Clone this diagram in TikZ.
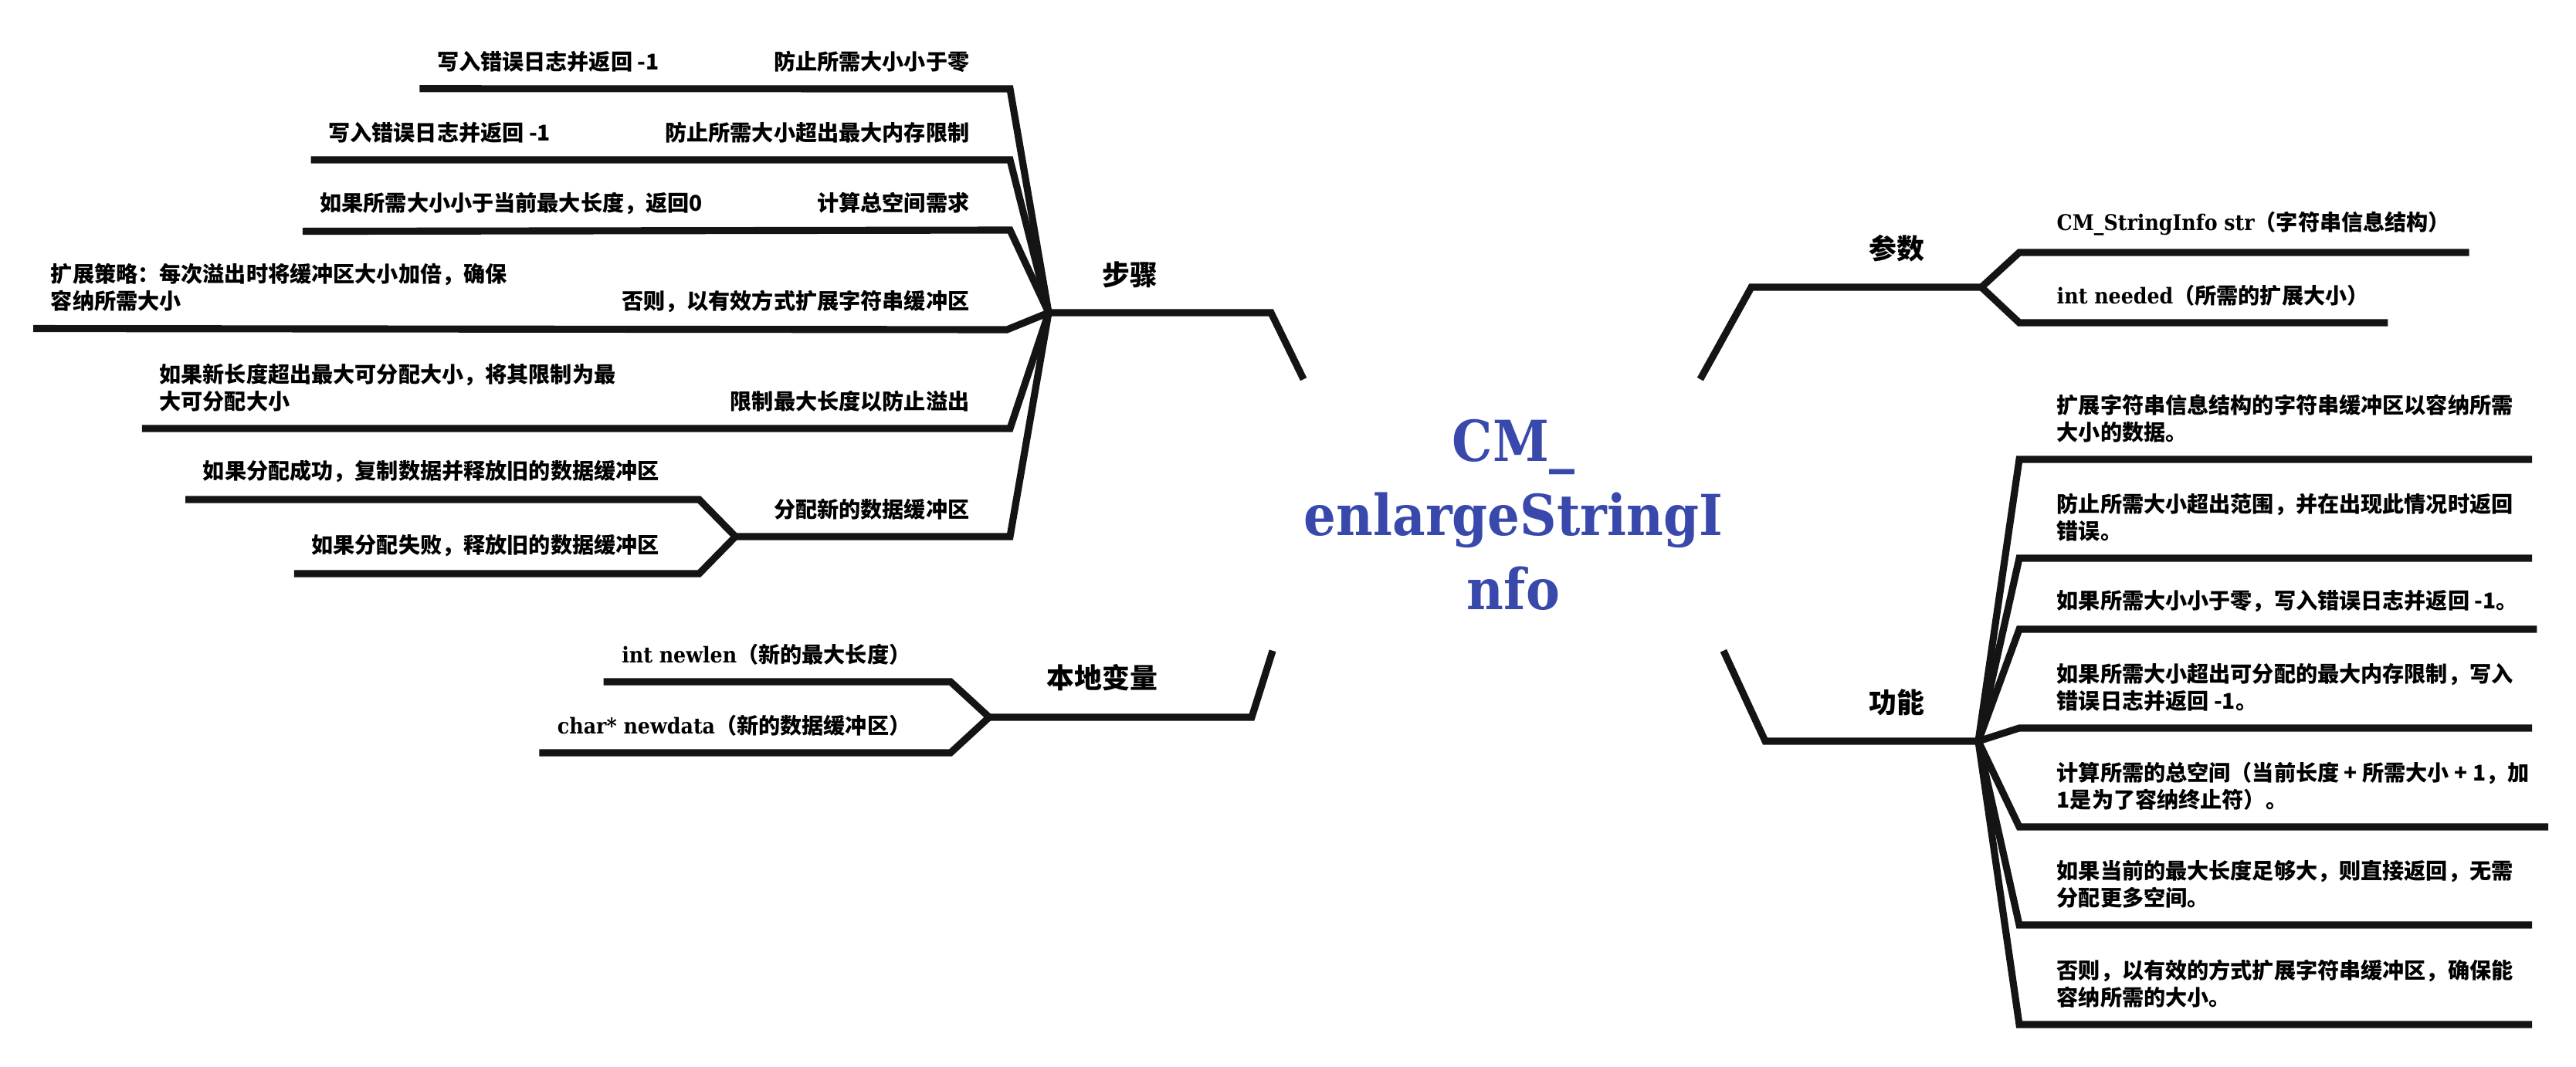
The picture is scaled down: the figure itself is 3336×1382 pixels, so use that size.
\documentclass[tikz,border=0pt]{standalone}
\usepackage{fontspec}
\setmainfont{Noto Sans CJK SC}
\newfontfamily\slab{DejaVu Serif}[FakeStretch=0.9]
\usetikzlibrary{positioning}
\definecolor{rootblue}{HTML}{3949AB}
\definecolor{linegray}{HTML}{141414}
\newcommand{\code}[1]{{\slab #1}}
\tikzset{
  branchline/.style={draw=linegray, line width=2.6pt},
  mainlabel/.style={inner sep=0pt, font=\fontsize{10.2}{12}\selectfont\bfseries},
  topic/.style={inner sep=0pt, align=left, font=\fontsize{8}{10}\selectfont\bfseries},
  subtopic/.style={topic},
  central/.style={inner sep=0pt, minimum width=5cm, minimum height=3.5cm, align=center, text=rootblue, font=\fontsize{20.8}{27.2}\selectfont\slab\bfseries}
}
\begin{document}
\begin{tikzpicture}[x=0.01cm, y=-0.01cm]
\useasboundingbox (0,0) rectangle (3336,1382);

\node[central] (root) at (1960,667) {CM\_\\enlargeStringI\\nfo};

\coordinate (hubS) at (1358,405);
\coordinate (kneeS) at (1646,405);
\coordinate (hubV) at (1281,929);
\coordinate (kneeV) at (1621,929);
\coordinate (hubP) at (2566,372);
\coordinate (kneeP) at (2268,372);
\coordinate (hubF) at (2562,960);
\coordinate (kneeF) at (2286,960);

\node[mainlabel, anchor=south east] (steps) at (1500,374) {步骤};
\node[mainlabel, anchor=south east] (locals) at (1500,896) {本地变量};
\node[mainlabel, anchor=south west] (params) at (2420,340) {参数};
\node[mainlabel, anchor=south west] (funcs) at (2420,928) {功能};

\draw[branchline] (root.north west) -- (kneeS) -- (hubS);
\draw[branchline] ([xshift=-0.4cm]root.south west) -- (kneeV) -- (hubV);
\draw[branchline] ([xshift=-0.3cm]root.north east) -- (kneeP) -- (hubP);
\draw[branchline] (root.south east) -- (kneeF) -- (hubF);

\node[topic, anchor=south east] (st1) at (1256,94) {防止所需大小小于零};
\node[topic, anchor=south east] (st2) at (1256,186) {防止所需大小超出最大内存限制};
\node[topic, anchor=south east] (st3) at (1256,277) {计算总空间需求};
\node[topic, anchor=south east] (st4) at (1256,406) {否则，以有效方式扩展字符串缓冲区};
\node[topic, anchor=south east] (st5) at (1256,534) {限制最大长度以防止溢出};
\node[topic, anchor=south east] (st6) at (1256,674) {分配新的数据缓冲区};

\node[subtopic, base left=1.47cm of st1] (sd1) {写入错误日志并返回 -1};
\node[subtopic, base left=1.47cm of st2] (sd2) {写入错误日志并返回 -1};
\node[subtopic, base left=1.47cm of st3] (sd3) {如果所需大小小于当前最大长度，返回0};
\node[subtopic, base left=1.47cm of st4] (sd4) {扩展策略：每次溢出时将缓冲区大小加倍，确保\\容纳所需大小};
\node[subtopic, base left=1.47cm of st5] (sd5) {如果新长度超出最大可分配大小，将其限制为最\\大可分配大小};
\node[subtopic, anchor=south east] (sd6a) at ([shift={(-147,-48)}]st6.south west) {如果分配成功，复制数据并释放旧的数据缓冲区};
\node[subtopic, anchor=south east] (sd6b) at ([shift={(-147,48)}]st6.south west) {如果分配失败，释放旧的数据缓冲区};
\coordinate (fork6) at ([shift={(-49,21)}]st6.south west);

\draw[branchline] (hubS) -- ([shift={(52,21)}]st1.south east) -- ([shift={(-22,21)}]sd1.south west);
\draw[branchline] (hubS) -- ([shift={(52,21)}]st2.south east) -- ([shift={(-22,21)}]sd2.south west);
\draw[branchline] (hubS) -- ([shift={(52,21)}]st3.south east) -- ([shift={(-22,21)}]sd3.south west);
\draw[branchline] (hubS) -- ([shift={(48,21)}]st4.south east) -- ([shift={(-22,21)}]sd4.south west);
\draw[branchline] (hubS) -- ([shift={(52,21)}]st5.south east) -- ([shift={(-22,21)}]sd5.south west);
\draw[branchline] (hubS) -- ([shift={(52,21)}]st6.south east) -- (fork6);
\draw[branchline] (fork6) -- ([shift={(51,21)}]sd6a.south east) -- ([shift={(-22,21)}]sd6a.south west);
\draw[branchline] (fork6) -- ([shift={(51,21)}]sd6b.south east) -- ([shift={(-22,21)}]sd6b.south west);

\node[topic, anchor=south east] (v1) at (1180,862) {\code{int newlen}（新的最大长度）};
\node[topic, anchor=south east] (v2) at (1180,954) {\code{char* newdata}（新的数据缓冲区）};
\draw[branchline] (hubV) -- ([shift={(51,21)}]v1.south east) -- ([shift={(-23,21)}]v1.south west);
\draw[branchline] (hubV) -- ([shift={(51,21)}]v2.south east) -- ([shift={(-23,21)}]v2.south west);

\node[topic, anchor=south west] (p1) at (2663,306) {\code{CM\_StringInfo str}（字符串信息结构）};
\node[topic, anchor=south west] (p2) at (2663,397) {\code{int needed}（所需的扩展大小）};
\draw[branchline] (hubP) -- ([shift={(-48,21)}]p1.south west) -- ([shift={(24,21)}]p1.south east);
\draw[branchline] (hubP) -- ([shift={(-48,21)}]p2.south west) -- ([shift={(24,21)}]p2.south east);

\node[topic, anchor=south west] (f1) at (2663,574) {扩展字符串信息结构的字符串缓冲区以容纳所需\\大小的数据。};
\node[topic, anchor=south west] (f2) at (2663,702) {防止所需大小超出范围，并在出现此情况时返回\\错误。};
\node[topic, anchor=south west] (f3) at (2663,794) {如果所需大小小于零，写入错误日志并返回 -1。};
\node[topic, anchor=south west] (f4) at (2663,922) {如果所需大小超出可分配的最大内存限制，写入\\错误日志并返回 -1。};
\node[topic, anchor=south west] (f5) at (2663,1050) {计算所需的总空间（当前长度 + 所需大小 + 1，加\\1是为了容纳终止符）。};
\node[topic, anchor=south west] (f6) at (2663,1177) {如果当前的最大长度足够大，则直接返回，无需\\分配更多空间。};
\node[topic, anchor=south west] (f7) at (2663,1306) {否则，以有效的方式扩展字符串缓冲区，确保能\\容纳所需的大小。};
\draw[branchline] (hubF) -- ([shift={(-48,21)}]f1.south west) -- ([shift={(24,21)}]f1.south east);
\draw[branchline] (hubF) -- ([shift={(-48,21)}]f2.south west) -- ([shift={(24,21)}]f2.south east);
\draw[branchline] (hubF) -- ([shift={(-48,21)}]f3.south west) -- ([shift={(24,21)}]f3.south east);
\draw[branchline] (hubF) -- ([shift={(-48,21)}]f4.south west) -- ([shift={(24,21)}]f4.south east);
\draw[branchline] (hubF) -- ([shift={(-48,21)}]f5.south west) -- ([shift={(24,21)}]f5.south east);
\draw[branchline] (hubF) -- ([shift={(-48,21)}]f6.south west) -- ([shift={(24,21)}]f6.south east);
\draw[branchline] (hubF) -- ([shift={(-48,21)}]f7.south west) -- ([shift={(24,21)}]f7.south east);
\end{tikzpicture}
\end{document}
